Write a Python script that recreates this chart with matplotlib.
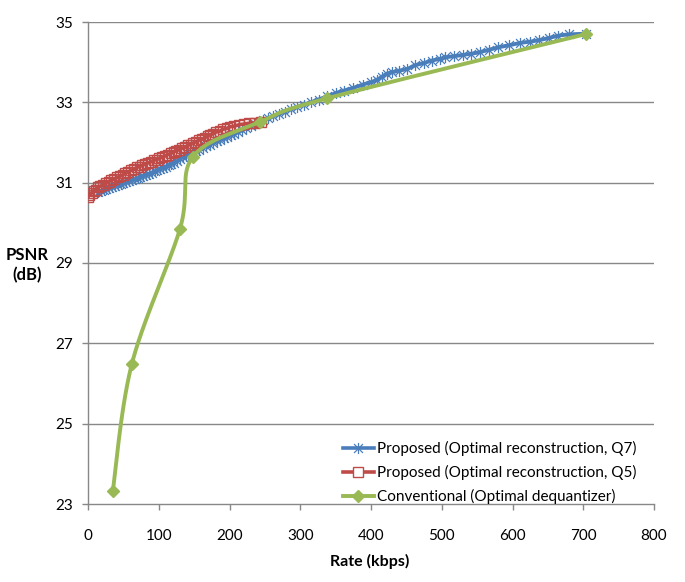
import numpy as np
import matplotlib
matplotlib.use("Agg")
import matplotlib.pyplot as plt
from matplotlib.lines import Line2D
from matplotlib.path import Path

plt.rcParams['font.family'] = ['Lato', 'DejaVu Sans']

# ---------------- data ----------------
q7_rate = [14, 18, 22, 26, 30, 34, 38, 42, 46, 50, 54, 58, 62, 66, 70, 74, 78, 82,
           86, 90, 94, 98, 102, 106, 110, 114, 118, 122, 126, 130, 134, 138, 142,
           147, 152, 157, 162, 167, 172, 177, 182, 187, 192, 197, 202, 207, 212,
           218, 224, 230, 236, 242, 248, 255, 262, 270, 278, 287, 296, 305, 315,
           326, 338, 350, 362, 375, 388, 400, 408, 415, 422, 430, 440, 451, 462,
           475, 486, 497, 505, 518, 530, 542, 554, 567, 580, 595, 611, 625, 638,
           651, 665, 680, 704]
q7_psnr = [30.76, 30.79, 30.81, 30.84, 30.86, 30.88, 30.91, 30.93, 30.96, 30.98,
           31.01, 31.03, 31.06, 31.08, 31.11, 31.13, 31.16, 31.19, 31.22, 31.25,
           31.28, 31.31, 31.34, 31.37, 31.40, 31.44, 31.47, 31.50, 31.53, 31.60,
           31.64, 31.67, 31.70, 31.74, 31.78, 31.82, 31.87, 31.91, 31.95, 31.99,
           32.03, 32.06, 32.10, 32.14, 32.18, 32.22, 32.26, 32.31, 32.36, 32.41,
           32.45, 32.50, 32.55, 32.60, 32.66, 32.71, 32.77, 32.83, 32.89, 32.94,
           33.00, 33.07, 33.15, 33.23, 33.29, 33.36, 33.44, 33.50, 33.56, 33.63,
           33.71, 33.75, 33.79, 33.83, 33.92, 33.98, 34.04, 34.08, 34.12, 34.15,
           34.18, 34.21, 34.25, 34.31, 34.37, 34.42, 34.48, 34.51, 34.55, 34.60,
           34.66, 34.69, 34.71]

q5_rate = [0, 2, 5, 8, 11, 14, 17, 21, 25, 29, 33, 37, 41, 45, 49, 53, 57, 61, 65,
           69, 73, 77, 81, 85, 89, 93, 97, 101, 105, 109, 113, 117, 121, 125, 129,
           133, 137, 141, 145, 149, 153, 157, 161, 165, 169, 173, 177, 181, 186,
           191, 196, 201, 207, 213, 220, 228, 236, 245]
q5_psnr = [30.64, 30.70, 30.74, 30.80, 30.82, 30.88, 30.91, 30.94, 30.99, 31.02,
           31.07, 31.09, 31.13, 31.16, 31.19, 31.24, 31.26, 31.31, 31.33, 31.38,
           31.40, 31.43, 31.47, 31.49, 31.52, 31.56, 31.57, 31.61, 31.63, 31.67,
           31.70, 31.73, 31.76, 31.80, 31.82, 31.86, 31.88, 31.93, 31.95, 31.99,
           32.02, 32.06, 32.08, 32.12, 32.15, 32.19, 32.22, 32.26, 32.28, 32.33,
           32.35, 32.39, 32.41, 32.44, 32.46, 32.48, 32.49, 32.51]

conv_rate = [35, 62, 130, 148, 243, 338, 704]
conv_psnr = [23.32, 26.49, 29.85, 31.64, 32.51, 33.10, 34.70]

x_ticks = [0, 100, 200, 300, 400, 500, 600, 700, 800]
y_ticks = [23, 25, 27, 29, 31, 33, 35]

labels = ['Proposed (Optimal reconstruction, Q7)',
          'Proposed (Optimal reconstruction, Q5)',
          'Conventional (Optimal dequantizer)']

BLUE = '#4A7EBB'
RED = '#BE4B48'
GREEN = '#98B954'
GRID = '#888888'

# Excel-style star marker: an X plus a vertical stroke
STAR = Path([(-1, -1), (1, 1), (-1, 1), (1, -1), (0, -1.25), (0, 1.25)],
            [Path.MOVETO, Path.LINETO, Path.MOVETO, Path.LINETO, Path.MOVETO, Path.LINETO])


def smooth(xs, ys, n=40):
    """Excel-like smoothed line (Catmull-Rom via cubic Bezier)."""
    xs = np.asarray(xs, float)
    ys = np.asarray(ys, float)
    px = np.concatenate([[xs[0]], xs, [xs[-1]]])
    py = np.concatenate([[ys[0]], ys, [ys[-1]]])
    outx, outy = [], []
    t = np.linspace(0, 1, n)
    for i in range(1, len(px) - 2):
        p0 = np.array([px[i], py[i]])
        p3 = np.array([px[i + 1], py[i + 1]])
        c1 = p0 + (np.array([px[i + 1], py[i + 1]]) - np.array([px[i - 1], py[i - 1]])) / 6
        c2 = p3 - (np.array([px[i + 2], py[i + 2]]) - np.array([px[i], py[i]])) / 6
        b = ((1 - t) ** 3)[:, None] * p0 + (3 * (1 - t) ** 2 * t)[:, None] * c1 \
            + (3 * (1 - t) * t ** 2)[:, None] * c2 + (t ** 3)[:, None] * p3
        outx.extend(b[:, 0])
        outy.extend(b[:, 1])
    return np.array(outx), np.array(outy)


fig = plt.figure(figsize=(6.85, 5.82), dpi=100)
ax = fig.add_axes([88 / 685, 1 - 504 / 582, (654 - 88) / 685, (504 - 22) / 582])

for yv in y_ticks[1:]:
    ax.axhline(yv, color=GRID, lw=1.0, zorder=0)

# Q7
sx, sy = smooth(q7_rate, q7_psnr, 8)
ax.plot(sx, sy, color=BLUE, lw=2.8, zorder=2, solid_capstyle='round')
ax.plot(q7_rate, q7_psnr, ls='none', marker=STAR, ms=8, mec=BLUE, mew=0.9, zorder=3)

# Q5
sx, sy = smooth(q5_rate, q5_psnr, 8)
ax.plot(sx, sy, color=RED, lw=2.6, zorder=4, solid_capstyle='round')
ax.plot(q5_rate, q5_psnr, ls='none', marker='s', ms=7.5, mfc='none', mec=RED, mew=1.0, zorder=5)

# Conventional
sx, sy = smooth(conv_rate, conv_psnr, 60)
ax.plot(sx, sy, color=GREEN, lw=2.8, zorder=6, solid_capstyle='round')
ax.plot(conv_rate, conv_psnr, ls='none', marker='D', ms=6.5, mfc=GREEN, mec=GREEN, zorder=7)

ax.set_xlim(0, 800)
ax.set_ylim(23, 35)
ax.set_xticks(x_ticks)
ax.set_yticks(y_ticks)
ax.set_xticklabels([str(v) for v in x_ticks])
ax.set_yticklabels([str(v) for v in y_ticks])
for s in ['top', 'right']:
    ax.spines[s].set_visible(False)
for s in ['left', 'bottom']:
    ax.spines[s].set_color(GRID)
    ax.spines[s].set_linewidth(1.0)
ax.tick_params(axis='both', direction='out', length=4, width=1, color=GRID,
               labelsize=11, labelcolor='black')
ax.tick_params(axis='x', pad=14)
ax.tick_params(axis='y', pad=7)

fig.text(370 / 685, 1 - 561 / 582, 'Rate (kbps)', ha='center', va='center',
         fontsize=11.5, fontweight='bold')
fig.text(27 / 685, 1 - 265 / 582, 'PSNR\n(dB)', ha='center', va='center',
         fontsize=12, fontweight='bold', linespacing=1.25)

handles = [
    Line2D([], [], color=BLUE, lw=2.6, marker=STAR, ms=8, mec=BLUE, mew=0.9),
    Line2D([], [], color=RED, lw=2.6, marker='s', ms=7.5, mfc='white', mec=RED, mew=1.0),
    Line2D([], [], color=GREEN, lw=2.8, marker='D', ms=6, mfc=GREEN, mec=GREEN),
]
fig.legend(handles, labels, loc='upper left',
           bbox_to_anchor=(343 / 685, 1 - 441 / 582), frameon=False, fontsize=11,
           handlelength=2.0, handletextpad=0.25, labelspacing=0.58, borderpad=0,
           borderaxespad=0)

fig.savefig('out.png', dpi=100)
